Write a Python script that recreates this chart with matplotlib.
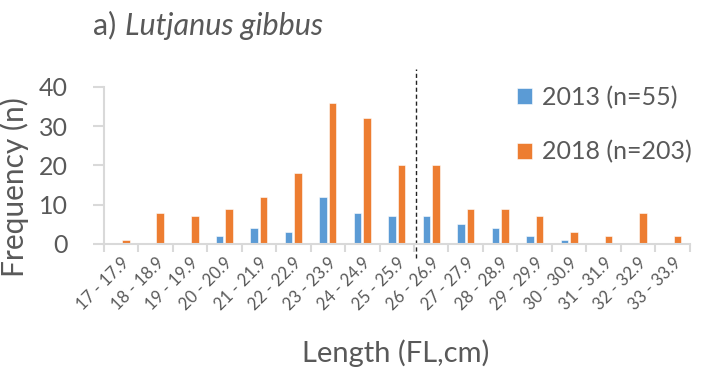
import matplotlib
matplotlib.use("Agg")
import matplotlib.pyplot as plt
import numpy as np

plt.rcParams['font.family'] = ['Lato', 'DejaVu Sans']

bins = ["17 - 17.9", "18 - 18.9", "19 - 19.9", "20 - 20.9", "21 - 21.9",
        "22 - 22.9", "23 - 23.9", "24 - 24.9", "25 - 25.9", "26 - 26.9",
        "27 - 27.9", "28 - 28.9", "29 - 29.9", "30 - 30.9", "31 - 31.9",
        "32 - 32.9", "33 - 33.9"]
freq_2013 = [0, 0, 0, 2, 4, 3, 12, 8, 7, 7, 5, 4, 2, 1, 0, 0, 0]
freq_2018 = [1, 8, 7, 9, 12, 18, 36, 32, 20, 20, 9, 9, 7, 3, 2, 8, 2]
yticks = [0, 10, 20, 30, 40]

blue = "#5B9BD5"
orange = "#ED7D31"
grey_txt = "#595959"
grey_ax = "#D9D9D9"

fig = plt.figure(figsize=(7.01, 3.83), dpi=100)
ax = fig.add_axes([0.148, 0.363, 0.836, 0.410])

x = np.arange(len(bins))
w = 0.22
off = 0.14
ax.bar(x - off, freq_2013, w, color=blue, edgecolor="white", linewidth=0.4,
       label="2013 (n=55)")
ax.bar(x + off, freq_2018, w, color=orange, edgecolor="white", linewidth=0.4,
       label="2018 (n=203)")

ax.set_xlim(-0.5, len(bins) - 0.5)
ax.set_ylim(0, 40)

# labels on the bin centres, tick marks on the bin edges
ax.set_xticks(x)
ax.set_xticklabels(bins, rotation=45, ha="right", rotation_mode="anchor",
                   fontsize=12, color=grey_txt)
ax.tick_params(axis="x", which="major", length=0, pad=8)
ax.set_xticks(np.arange(-0.5, len(bins)), minor=True)
ax.tick_params(axis="x", which="minor", length=6, width=1.5, color=grey_ax)

ax.set_yticks(yticks)
ax.tick_params(axis="y", length=8, width=1.5, color=grey_ax,
               labelsize=18, labelcolor=grey_txt, pad=18)

for s in ["top", "right"]:
    ax.spines[s].set_visible(False)
for s in ["left", "bottom"]:
    ax.spines[s].set_color(grey_ax)
    ax.spines[s].set_linewidth(1.5)

# divider between the two halves of the size range
ax.plot([8.56, 8.56], [-3.5, 44.5], color="#222222", linestyle=(0, (3, 2)),
        linewidth=1.0, clip_on=False)

ax.set_ylabel("Frequency (n)", fontsize=21.5, color=grey_txt)
ax.yaxis.set_label_coords(-0.128, 0.365)
fig.text(0.565, 0.055, "Length (FL,cm)", fontsize=21, color=grey_txt,
         ha="center", va="baseline")

fig.text(0.133, 0.909, "a)", fontsize=22, color=grey_txt, va="baseline")
fig.text(0.179, 0.909, "Lutjanus gibbus", fontsize=22, color=grey_txt,
         style="italic", va="baseline")

leg = ax.legend(loc="center left", bbox_to_anchor=(0.737, 0.674),
                bbox_transform=fig.transFigure, frameon=False, fontsize=18,
                handlelength=0.6, handleheight=0.6, handletextpad=0.4,
                labelspacing=1.25, labelcolor=grey_txt, borderpad=0,
                borderaxespad=0)

fig.savefig("out.png", dpi=100)
